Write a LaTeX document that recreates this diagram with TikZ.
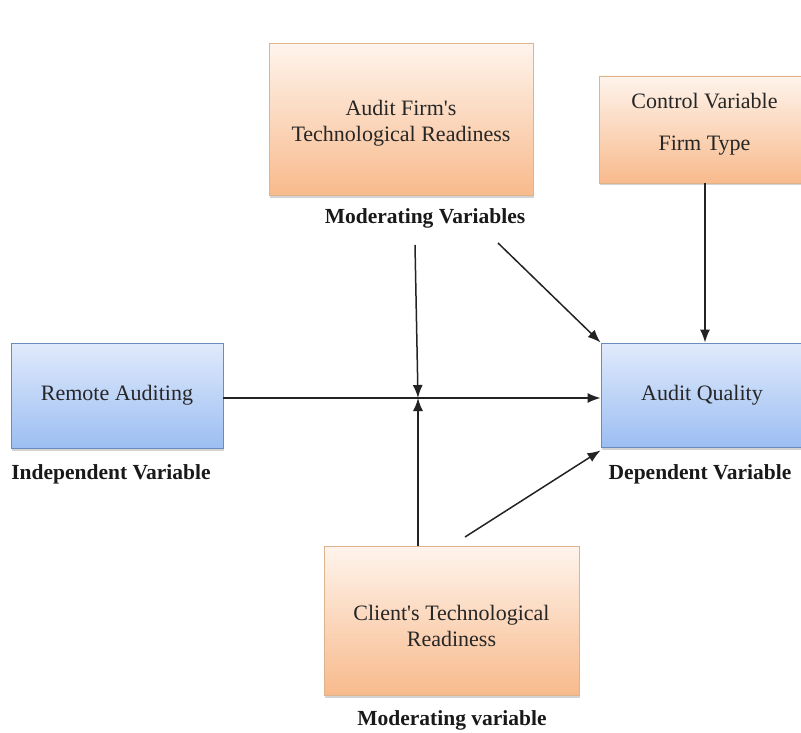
\documentclass[tikz,border=0pt]{standalone}
\usepackage{fontspec}
\setmainfont{Liberation Serif}[Ligatures=TeXOff]
\usetikzlibrary{arrows.meta,shadows}
\definecolor{orangetop}{RGB}{254,244,236}
\definecolor{orangebot}{RGB}{248,186,140}
\definecolor{orangeedge}{RGB}{222,180,140}
\definecolor{bluetop}{RGB}{224,234,252}
\definecolor{bluebot}{RGB}{156,190,242}
\definecolor{blueedge}{RGB}{105,140,188}
\definecolor{linegray}{RGB}{35,35,35}
% text block raised by #1 without changing the node's own size
\newcommand{\boxtext}[2]{\raisebox{#1}[0pt][0pt]{\begin{tabular}{@{}c@{}}#2\end{tabular}}}
\tikzset{
  varbox/.style={draw, rectangle, line width=0.9pt, align=center,
    font=\fontsize{22}{26}\selectfont, text=black!85,
    drop shadow={opacity=0.35, shadow xshift=1pt, shadow yshift=-2.5pt}},
  orangebox/.style={varbox, draw=orangeedge, top color=orangetop, bottom color=orangebot},
  bluebox/.style={varbox, draw=blueedge, top color=bluetop, bottom color=bluebot},
  caption/.style={font=\bfseries\fontsize{21.5}{25}\selectfont, text=black!90},
  link/.style={draw=linegray, line width=1.5pt, -{Latex[length=13pt,width=10pt]}}
}
\begin{document}
\begin{tikzpicture}[x=1pt,y=-1pt]
  \useasboundingbox (0,0) rectangle (801,733);
  \begin{scope}
  \clip (0,0) rectangle (801,733);
  % variable boxes
  \node[orangebox, minimum width=264, minimum height=152] (firm) at (401,119.5)
    {\boxtext{-8.5pt}{Audit Firm's\\Technological Readiness}};
  \node[orangebox, minimum width=211, minimum height=107] (ctrl) at (704.5,129.5)
    {\boxtext{0pt}{Control Variable\\[16pt]Firm Type}};
  \node[bluebox, minimum width=212, minimum height=105] (remote) at (117,395.5)
    {Remote Auditing};
  \node[bluebox, minimum width=202, minimum height=104] (quality) at (702,395)
    {Audit Quality};
  \node[orangebox, minimum width=255, minimum height=149] (client) at (451.5,620.5)
    {\boxtext{-12.5pt}{Client's Technological\\Readiness}};
  % captions
  \node[caption] (modtop) at (425,218) {Moderating Variables};
  \node[caption] (indep) at (111,474) {Independent Variable};
  \node[caption] (dep) at (700,474) {Dependent Variable};
  \node[caption] (modbot) at (452,720) {Moderating variable};
  % connector anchors
  \coordinate (j) at (418,398);
  \coordinate (modstart) at (415,245);
  \coordinate (diagA) at (498,243);
  \coordinate (diagB) at (465,537);
  \coordinate (ctrlx) at (705,0);
  % connectors
  \draw[link] (remote.east |- j) -- (quality.west |- j);
  \draw[link] (modstart) -- (j);
  \draw[link] (client.north -| j) -- (j);
  \draw[link] (diagA) -- (quality.north west);
  \draw[link] (diagB) -- ([yshift=-3pt]quality.south west);
  \draw[link] (ctrl.south -| ctrlx) -- (quality.north -| ctrlx);
  \end{scope}
\end{tikzpicture}
\end{document}
